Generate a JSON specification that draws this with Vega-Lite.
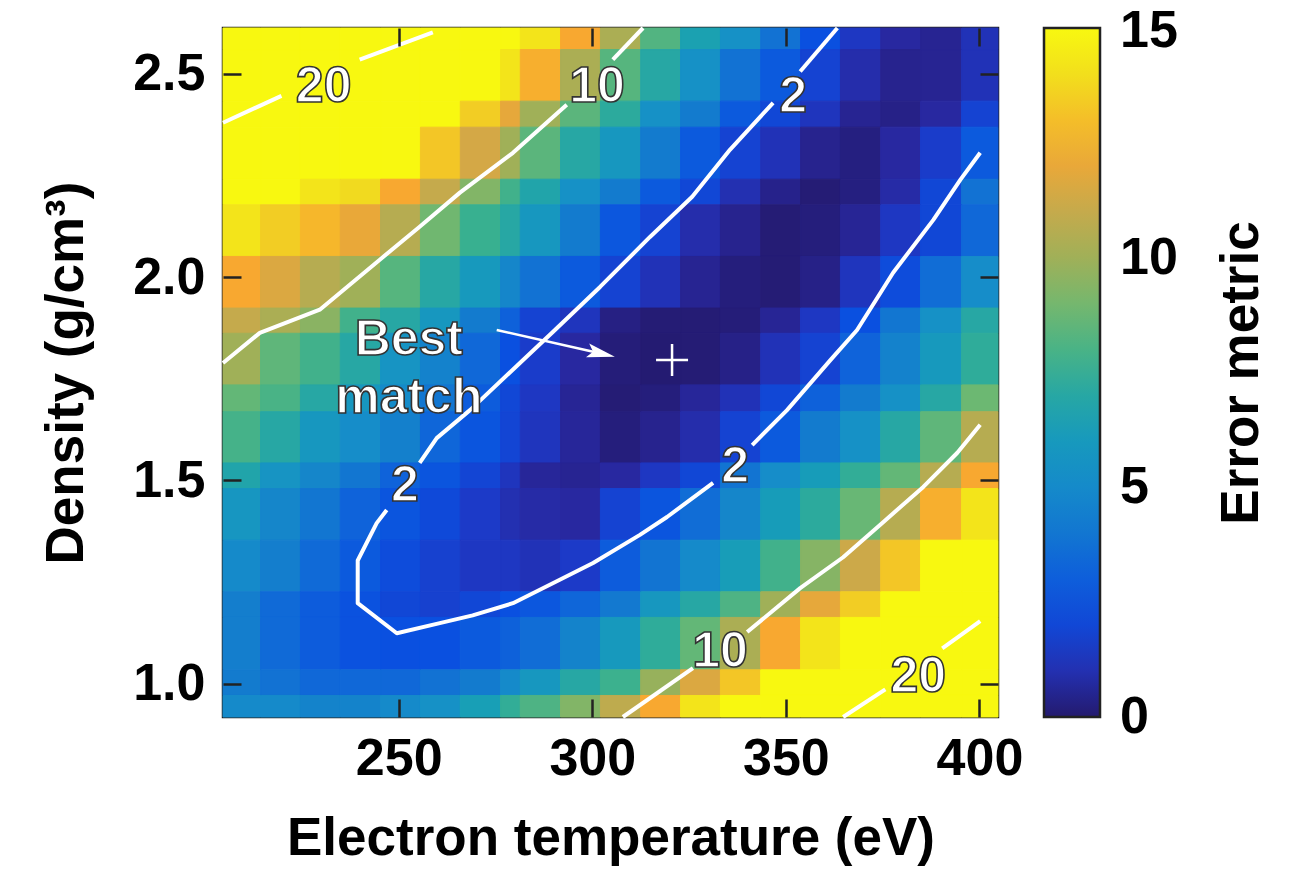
{
"$schema":"https://vega.github.io/schema/vega-lite/v6.json",
"width":775,"height":689,
"autosize":{"type":"none"},
"padding":{"left":223,"top":28,"right":293,"bottom":157},
"background":"white",
"config":{"view":{"stroke":"#222","strokeWidth":2.5},"font":"Liberation Sans"},
"datasets":{
"cols":[{"c":0,"t0":204.6,"t1":214.3},{"c":1,"t0":214.3,"t1":224.6},{"c":2,"t0":224.6,"t1":234.9},{"c":3,"t0":234.9,"t1":245.3},{"c":4,"t0":245.3,"t1":255.6},{"c":5,"t0":255.6,"t1":265.9},{"c":6,"t0":265.9,"t1":276.3},{"c":7,"t0":276.3,"t1":281.4},{"c":8,"t0":281.4,"t1":291.8},{"c":9,"t0":291.8,"t1":302.1},{"c":10,"t0":302.1,"t1":312.5},{"c":11,"t0":312.5,"t1":322.8},{"c":12,"t0":322.8,"t1":333.1},{"c":13,"t0":333.1,"t1":343.5},{"c":14,"t0":343.5,"t1":353.8},{"c":15,"t0":353.8,"t1":364.1},{"c":16,"t0":364.1,"t1":374.5},{"c":17,"t0":374.5,"t1":384.8},{"c":18,"t0":384.8,"t1":395.4},{"c":19,"t0":395.4,"t1":404.8}],
"rows":[{"r":0,"d0":2.560,"d1":2.613},{"r":1,"d0":2.433,"d1":2.560},{"r":2,"d0":2.369,"d1":2.433},{"r":3,"d0":2.241,"d1":2.369},{"r":4,"d0":2.178,"d1":2.241},{"r":5,"d0":2.051,"d1":2.178},{"r":6,"d0":1.924,"d1":2.051},{"r":7,"d0":1.862,"d1":1.924},{"r":8,"d0":1.735,"d1":1.862},{"r":9,"d0":1.669,"d1":1.735},{"r":10,"d0":1.543,"d1":1.669},{"r":11,"d0":1.480,"d1":1.543},{"r":12,"d0":1.353,"d1":1.480},{"r":13,"d0":1.226,"d1":1.353},{"r":14,"d0":1.163,"d1":1.226},{"r":15,"d0":1.034,"d1":1.163},{"r":16,"d0":0.971,"d1":1.034},{"r":17,"d0":0.918,"d1":0.971}],
"cells":[
{"r":0,"c":0,"v":30},{"r":0,"c":1,"v":28},{"r":0,"c":2,"v":26},{"r":0,"c":3,"v":24},{"r":0,"c":4,"v":22},{"r":0,"c":5,"v":20},{"r":0,"c":6,"v":18},{"r":0,"c":7,"v":16},{"r":0,"c":8,"v":14.2},{"r":0,"c":9,"v":12.4},{"r":0,"c":10,"v":10.3},{"r":0,"c":11,"v":8.2},{"r":0,"c":12,"v":6.6},{"r":0,"c":13,"v":5.5},{"r":0,"c":14,"v":3.8},{"r":0,"c":15,"v":2.4},{"r":0,"c":16,"v":1.3},{"r":0,"c":17,"v":0.7},{"r":0,"c":18,"v":0.5},{"r":0,"c":19,"v":1.1},
{"r":1,"c":0,"v":26},{"r":1,"c":1,"v":24},{"r":1,"c":2,"v":22},{"r":1,"c":3,"v":20},{"r":1,"c":4,"v":18.5},{"r":1,"c":5,"v":17.5},{"r":1,"c":6,"v":16.5},{"r":1,"c":7,"v":14.2},{"r":1,"c":8,"v":12.6},{"r":1,"c":9,"v":10.3},{"r":1,"c":10,"v":8.3},{"r":1,"c":11,"v":7.0},{"r":1,"c":12,"v":5.5},{"r":1,"c":13,"v":3.8},{"r":1,"c":14,"v":2.8},{"r":1,"c":15,"v":1.8},{"r":1,"c":16,"v":0.9},{"r":1,"c":17,"v":0.45},{"r":1,"c":18,"v":0.5},{"r":1,"c":19,"v":1.1},
{"r":2,"c":0,"v":20.5},{"r":2,"c":1,"v":19},{"r":2,"c":2,"v":18},{"r":2,"c":3,"v":17},{"r":2,"c":4,"v":16.5},{"r":2,"c":5,"v":15.5},{"r":2,"c":6,"v":13.4},{"r":2,"c":7,"v":11.9},{"r":2,"c":8,"v":10.0},{"r":2,"c":9,"v":8.4},{"r":2,"c":10,"v":7.2},{"r":2,"c":11,"v":5.5},{"r":2,"c":12,"v":4.2},{"r":2,"c":13,"v":2.8},{"r":2,"c":14,"v":2.0},{"r":2,"c":15,"v":1.2},{"r":2,"c":16,"v":0.5},{"r":2,"c":17,"v":0.35},{"r":2,"c":18,"v":0.7},{"r":2,"c":19,"v":1.8},
{"r":3,"c":0,"v":19},{"r":3,"c":1,"v":18},{"r":3,"c":2,"v":17},{"r":3,"c":3,"v":16.5},{"r":3,"c":4,"v":15.5},{"r":3,"c":5,"v":13.2},{"r":3,"c":6,"v":11.4},{"r":3,"c":7,"v":10.0},{"r":3,"c":8,"v":8.4},{"r":3,"c":9,"v":7.0},{"r":3,"c":10,"v":5.9},{"r":3,"c":11,"v":4.2},{"r":3,"c":12,"v":2.8},{"r":3,"c":13,"v":1.8},{"r":3,"c":14,"v":1.1},{"r":3,"c":15,"v":0.45},{"r":3,"c":16,"v":0.25},{"r":3,"c":17,"v":0.7},{"r":3,"c":18,"v":1.5},{"r":3,"c":19,"v":2.8},
{"r":4,"c":0,"v":17},{"r":4,"c":1,"v":16},{"r":4,"c":2,"v":14.2},{"r":4,"c":3,"v":13.8},{"r":4,"c":4,"v":12.4},{"r":4,"c":5,"v":11.0},{"r":4,"c":6,"v":9.3},{"r":4,"c":7,"v":7.8},{"r":4,"c":8,"v":6.8},{"r":4,"c":9,"v":5.5},{"r":4,"c":10,"v":4.2},{"r":4,"c":11,"v":2.8},{"r":4,"c":12,"v":2.0},{"r":4,"c":13,"v":1.0},{"r":4,"c":14,"v":0.4},{"r":4,"c":15,"v":0.1},{"r":4,"c":16,"v":0.25},{"r":4,"c":17,"v":0.8},{"r":4,"c":18,"v":2.0},{"r":4,"c":19,"v":3.8},
{"r":5,"c":0,"v":14.2},{"r":5,"c":1,"v":13.4},{"r":5,"c":2,"v":12.8},{"r":5,"c":3,"v":12.0},{"r":5,"c":4,"v":10.6},{"r":5,"c":5,"v":8.9},{"r":5,"c":6,"v":7.6},{"r":5,"c":7,"v":7.0},{"r":5,"c":8,"v":5.9},{"r":5,"c":9,"v":4.2},{"r":5,"c":10,"v":2.7},{"r":5,"c":11,"v":1.8},{"r":5,"c":12,"v":0.9},{"r":5,"c":13,"v":0.45},{"r":5,"c":14,"v":0.1},{"r":5,"c":15,"v":0.2},{"r":5,"c":16,"v":0.55},{"r":5,"c":17,"v":1.3},{"r":5,"c":18,"v":2.0},{"r":5,"c":19,"v":3.4},
{"r":6,"c":0,"v":12.4},{"r":6,"c":1,"v":11.6},{"r":6,"c":2,"v":10.6},{"r":6,"c":3,"v":10.0},{"r":6,"c":4,"v":8.3},{"r":6,"c":5,"v":7.0},{"r":6,"c":6,"v":6.0},{"r":6,"c":7,"v":4.8},{"r":6,"c":8,"v":3.8},{"r":6,"c":9,"v":2.8},{"r":6,"c":10,"v":1.8},{"r":6,"c":11,"v":1.1},{"r":6,"c":12,"v":0.5},{"r":6,"c":13,"v":0.2},{"r":6,"c":14,"v":0.1},{"r":6,"c":15,"v":0.35},{"r":6,"c":16,"v":1.2},{"r":6,"c":17,"v":2.2},{"r":6,"c":18,"v":3.6},{"r":6,"c":19,"v":5.2},
{"r":7,"c":0,"v":11.0},{"r":7,"c":1,"v":10.3},{"r":7,"c":2,"v":9.5},{"r":7,"c":3,"v":7.8},{"r":7,"c":4,"v":7.0},{"r":7,"c":5,"v":5.9},{"r":7,"c":6,"v":4.2},{"r":7,"c":7,"v":3.1},{"r":7,"c":8,"v":1.8},{"r":7,"c":9,"v":1.2},{"r":7,"c":10,"v":0.3},{"r":7,"c":11,"v":0.1},{"r":7,"c":12,"v":0.1},{"r":7,"c":13,"v":0.15},{"r":7,"c":14,"v":0.55},{"r":7,"c":15,"v":1.3},{"r":7,"c":16,"v":2.4},{"r":7,"c":17,"v":4.0},{"r":7,"c":18,"v":5.5},{"r":7,"c":19,"v":7.0},
{"r":8,"c":0,"v":10.0},{"r":8,"c":1,"v":8.5},{"r":8,"c":2,"v":7.8},{"r":8,"c":3,"v":7.0},{"r":8,"c":4,"v":5.7},{"r":8,"c":5,"v":4.5},{"r":8,"c":6,"v":3.4},{"r":8,"c":7,"v":2.4},{"r":8,"c":8,"v":1.5},{"r":8,"c":9,"v":0.7},{"r":8,"c":10,"v":0.15},{"r":8,"c":11,"v":0.05},{"r":8,"c":12,"v":0.1},{"r":8,"c":13,"v":0.35},{"r":8,"c":14,"v":1.1},{"r":8,"c":15,"v":1.8},{"r":8,"c":16,"v":3.2},{"r":8,"c":17,"v":4.5},{"r":8,"c":18,"v":6.0},{"r":8,"c":19,"v":7.3},
{"r":9,"c":0,"v":8.6},{"r":9,"c":1,"v":8.0},{"r":9,"c":2,"v":7.0},{"r":9,"c":3,"v":5.9},{"r":9,"c":4,"v":5.1},{"r":9,"c":5,"v":4.0},{"r":9,"c":6,"v":2.9},{"r":9,"c":7,"v":2.0},{"r":9,"c":8,"v":1.3},{"r":9,"c":9,"v":0.55},{"r":9,"c":10,"v":0.1},{"r":9,"c":11,"v":0.2},{"r":9,"c":12,"v":0.6},{"r":9,"c":13,"v":1.1},{"r":9,"c":14,"v":2.0},{"r":9,"c":15,"v":3.1},{"r":9,"c":16,"v":4.2},{"r":9,"c":17,"v":5.5},{"r":9,"c":18,"v":7.0},{"r":9,"c":19,"v":8.8},
{"r":10,"c":0,"v":7.9},{"r":10,"c":1,"v":7.0},{"r":10,"c":2,"v":5.9},{"r":10,"c":3,"v":5.2},{"r":10,"c":4,"v":4.4},{"r":10,"c":5,"v":3.3},{"r":10,"c":6,"v":2.6},{"r":10,"c":7,"v":1.9},{"r":10,"c":8,"v":1.2},{"r":10,"c":9,"v":0.6},{"r":10,"c":10,"v":0.2},{"r":10,"c":11,"v":0.45},{"r":10,"c":12,"v":0.9},{"r":10,"c":13,"v":1.8},{"r":10,"c":14,"v":2.8},{"r":10,"c":15,"v":4.2},{"r":10,"c":16,"v":5.5},{"r":10,"c":17,"v":7.0},{"r":10,"c":18,"v":8.5},{"r":10,"c":19,"v":10.6},
{"r":11,"c":0,"v":6.8},{"r":11,"c":1,"v":5.7},{"r":11,"c":2,"v":4.8},{"r":11,"c":3,"v":4.0},{"r":11,"c":4,"v":3.2},{"r":11,"c":5,"v":2.6},{"r":11,"c":6,"v":1.9},{"r":11,"c":7,"v":1.2},{"r":11,"c":8,"v":0.6},{"r":11,"c":9,"v":0.5},{"r":11,"c":10,"v":0.7},{"r":11,"c":11,"v":1.3},{"r":11,"c":12,"v":2.0},{"r":11,"c":13,"v":3.9},{"r":11,"c":14,"v":5.2},{"r":11,"c":15,"v":6.2},{"r":11,"c":16,"v":7.4},{"r":11,"c":17,"v":8.6},{"r":11,"c":18,"v":10.6},{"r":11,"c":19,"v":12.4},
{"r":12,"c":0,"v":5.8},{"r":12,"c":1,"v":4.8},{"r":12,"c":2,"v":4.0},{"r":12,"c":3,"v":3.2},{"r":12,"c":4,"v":2.6},{"r":12,"c":5,"v":2.1},{"r":12,"c":6,"v":1.4},{"r":12,"c":7,"v":1.0},{"r":12,"c":8,"v":0.8},{"r":12,"c":9,"v":0.7},{"r":12,"c":10,"v":1.8},{"r":12,"c":11,"v":2.6},{"r":12,"c":12,"v":3.6},{"r":12,"c":13,"v":4.8},{"r":12,"c":14,"v":6.2},{"r":12,"c":15,"v":7.2},{"r":12,"c":16,"v":8.7},{"r":12,"c":17,"v":10.6},{"r":12,"c":18,"v":12.6},{"r":12,"c":19,"v":14.2},
{"r":13,"c":0,"v":5.0},{"r":13,"c":1,"v":4.3},{"r":13,"c":2,"v":3.5},{"r":13,"c":3,"v":2.8},{"r":13,"c":4,"v":2.2},{"r":13,"c":5,"v":1.7},{"r":13,"c":6,"v":1.3},{"r":13,"c":7,"v":1.3},{"r":13,"c":8,"v":1.1},{"r":13,"c":9,"v":1.4},{"r":13,"c":10,"v":2.9},{"r":13,"c":11,"v":3.9},{"r":13,"c":12,"v":5.0},{"r":13,"c":13,"v":6.3},{"r":13,"c":14,"v":7.8},{"r":13,"c":15,"v":9.4},{"r":13,"c":16,"v":11.2},{"r":13,"c":17,"v":13.2},{"r":13,"c":18,"v":16},{"r":13,"c":19,"v":17.5},
{"r":14,"c":0,"v":4.3},{"r":14,"c":1,"v":3.5},{"r":14,"c":2,"v":2.9},{"r":14,"c":3,"v":2.5},{"r":14,"c":4,"v":2.0},{"r":14,"c":5,"v":1.7},{"r":14,"c":6,"v":2.0},{"r":14,"c":7,"v":2.4},{"r":14,"c":8,"v":2.7},{"r":14,"c":9,"v":3.3},{"r":14,"c":10,"v":4.1},{"r":14,"c":11,"v":5.9},{"r":14,"c":12,"v":7.0},{"r":14,"c":13,"v":8.1},{"r":14,"c":14,"v":10.0},{"r":14,"c":15,"v":11.9},{"r":14,"c":16,"v":13.4},{"r":14,"c":17,"v":15.5},{"r":14,"c":18,"v":17.5},{"r":14,"c":19,"v":19.2},
{"r":15,"c":0,"v":4.3},{"r":15,"c":1,"v":3.5},{"r":15,"c":2,"v":2.9},{"r":15,"c":3,"v":2.5},{"r":15,"c":4,"v":2.4},{"r":15,"c":5,"v":2.4},{"r":15,"c":6,"v":2.8},{"r":15,"c":7,"v":3.1},{"r":15,"c":8,"v":3.6},{"r":15,"c":9,"v":4.6},{"r":15,"c":10,"v":6.0},{"r":15,"c":11,"v":7.3},{"r":15,"c":12,"v":8.6},{"r":15,"c":13,"v":10.3},{"r":15,"c":14,"v":12.4},{"r":15,"c":15,"v":14.2},{"r":15,"c":16,"v":16},{"r":15,"c":17,"v":17.5},{"r":15,"c":18,"v":19.3},{"r":15,"c":19,"v":21},
{"r":16,"c":0,"v":4.2},{"r":16,"c":1,"v":3.8},{"r":16,"c":2,"v":3.4},{"r":16,"c":3,"v":3.4},{"r":16,"c":4,"v":3.4},{"r":16,"c":5,"v":3.8},{"r":16,"c":6,"v":4.2},{"r":16,"c":7,"v":5.0},{"r":16,"c":8,"v":5.9},{"r":16,"c":9,"v":7.0},{"r":16,"c":10,"v":7.7},{"r":16,"c":11,"v":9.8},{"r":16,"c":12,"v":11.6},{"r":16,"c":13,"v":13.2},{"r":16,"c":14,"v":15.5},{"r":16,"c":15,"v":17},{"r":16,"c":16,"v":18.5},{"r":16,"c":17,"v":20},{"r":16,"c":18,"v":21.5},{"r":16,"c":19,"v":23},
{"r":17,"c":0,"v":5.0},{"r":17,"c":1,"v":5.0},{"r":17,"c":2,"v":4.6},{"r":17,"c":3,"v":4.6},{"r":17,"c":4,"v":5.0},{"r":17,"c":5,"v":5.5},{"r":17,"c":6,"v":6.4},{"r":17,"c":7,"v":7.4},{"r":17,"c":8,"v":8.1},{"r":17,"c":9,"v":9.3},{"r":17,"c":10,"v":10.8},{"r":17,"c":11,"v":12.4},{"r":17,"c":12,"v":14.2},{"r":17,"c":13,"v":16},{"r":17,"c":14,"v":17.5},{"r":17,"c":15,"v":19},{"r":17,"c":16,"v":20.3},{"r":17,"c":17,"v":22},{"r":17,"c":18,"v":23.5},{"r":17,"c":19,"v":25}
],
"contours":[
{"seg":"2a","i":0,"T":363.3,"D":2.613},{"seg":"2a","i":1,"T":353.7,"D":2.506},
{"seg":"2b","i":0,"T":346.7,"D":2.429},{"seg":"2b","i":1,"T":335.6,"D":2.314},{"seg":"2b","i":2,"T":325.8,"D":2.198},{"seg":"2b","i":3,"T":314.9,"D":2.099},{"seg":"2b","i":4,"T":302.0,"D":1.976},{"seg":"2b","i":5,"T":289.8,"D":1.865},{"seg":"2b","i":6,"T":281.3,"D":1.789},{"seg":"2b","i":7,"T":268.4,"D":1.673},{"seg":"2b","i":8,"T":259.8,"D":1.604},{"seg":"2b","i":9,"T":255.4,"D":1.543},
{"seg":"2c","i":0,"T":246.9,"D":1.427},{"seg":"2c","i":1,"T":244.3,"D":1.395},{"seg":"2c","i":2,"T":239.4,"D":1.303},{"seg":"2c","i":3,"T":239.4,"D":1.198},{"seg":"2c","i":4,"T":249.5,"D":1.124},{"seg":"2c","i":5,"T":260.6,"D":1.149},{"seg":"2c","i":6,"T":269.1,"D":1.168},{"seg":"2c","i":7,"T":279.5,"D":1.198},{"seg":"2c","i":8,"T":289.8,"D":1.247},{"seg":"2c","i":9,"T":300.2,"D":1.297},{"seg":"2c","i":10,"T":312.3,"D":1.366},{"seg":"2c","i":11,"T":319.3,"D":1.410},{"seg":"2c","i":12,"T":331.2,"D":1.494},
{"seg":"2d","i":0,"T":341.3,"D":1.587},{"seg":"2d","i":1,"T":350.3,"D":1.673},{"seg":"2d","i":2,"T":361.5,"D":1.796},{"seg":"2d","i":3,"T":368.4,"D":1.870},{"seg":"2d","i":4,"T":377.7,"D":2.011},{"seg":"2d","i":5,"T":388.1,"D":2.141},{"seg":"2d","i":6,"T":395.1,"D":2.240},{"seg":"2d","i":7,"T":400.2,"D":2.306},
{"seg":"10a","i":0,"T":204.6,"D":1.789},{"seg":"10a","i":1,"T":214.1,"D":1.863},{"seg":"10a","i":2,"T":229.6,"D":1.920},{"seg":"10a","i":3,"T":245.1,"D":2.043},{"seg":"10a","i":4,"T":255.4,"D":2.124},{"seg":"10a","i":5,"T":265.8,"D":2.208},{"seg":"10a","i":6,"T":279.5,"D":2.306},{"seg":"10a","i":7,"T":293.4,"D":2.424},
{"seg":"10b","i":0,"T":305.3,"D":2.535},{"seg":"10b","i":1,"T":313.1,"D":2.613},
{"seg":"10c","i":0,"T":307.9,"D":0.918},{"seg":"10c","i":1,"T":326.0,"D":1.038},
{"seg":"10d","i":0,"T":340.0,"D":1.127},{"seg":"10d","i":1,"T":353.7,"D":1.235},{"seg":"10d","i":2,"T":364.8,"D":1.311},{"seg":"10d","i":3,"T":375.2,"D":1.398},{"seg":"10d","i":4,"T":385.5,"D":1.484},{"seg":"10d","i":5,"T":394.3,"D":1.568},{"seg":"10d","i":6,"T":400.2,"D":1.637},
{"seg":"20a","i":0,"T":204.6,"D":2.380},{"seg":"20a","i":1,"T":219.7,"D":2.446},
{"seg":"20b","i":0,"T":239.9,"D":2.535},{"seg":"20b","i":1,"T":258.8,"D":2.602},
{"seg":"20c","i":0,"T":364.8,"D":0.918},{"seg":"20c","i":1,"T":375.7,"D":0.986},
{"seg":"20d","i":0,"T":390.4,"D":1.087},{"seg":"20d","i":1,"T":400.2,"D":1.154}
],
"labels":[
{"T":230.6,"D":2.469,"label":"20"},{"T":301.2,"D":2.469,"label":"10"},{"T":351.9,"D":2.444,"label":"2"},{"T":251.6,"D":1.486,"label":"2"},{"T":336.9,"D":1.533,"label":"2"},{"T":333.0,"D":1.077,"label":"10"},{"T":384.2,"D":1.016,"label":"20"},{"T":252.6,"D":1.845,"label":"Best\nmatch"}
],
"arrow":[{"i":0,"T":275.3,"D":1.870},{"i":1,"T":300.5,"D":1.816}],
"arrowhead":[{"T":302.3,"D":1.812}],
"best":[{"T":320.6,"D":1.796}]
},
"layer":[
{"data":{"name":"cells"},
 "transform":[
  {"lookup":"c","from":{"data":{"name":"cols"},"key":"c","fields":["t0","t1"]}},
  {"lookup":"r","from":{"data":{"name":"rows"},"key":"r","fields":["d0","d1"]}}
 ],
 "mark":{"type":"rect","strokeWidth":1,"stroke":{"expr":"scale('fill', datum.v)"}},
 "encoding":{
  "x":{"field":"t0","type":"quantitative","scale":{"domain":[204.6,404.8],"nice":false,"zero":false},
   "axis":{"orient":"bottom","zindex":1,"title":"Electron temperature (eV)","values":[250,300,350,400],"grid":false,"domain":false,"tickSize":-18,"tickWidth":2.5,"tickColor":"#222","labelFontSize":52,"labelFont":"Liberation Sans","labelFontWeight":"bold","labelColor":"black","labelPadding":34,"labelFlush":false,"labelOverlap":false,"titleFont":"Liberation Sans","titleFontSize":53,"titleFontWeight":"bold","titleColor":"black","titlePadding":28}},
  "x2":{"field":"t1"},
  "y":{"field":"d0","type":"quantitative","scale":{"domain":[0.918,2.613],"nice":false,"zero":false},
   "axis":{"orient":"left","zindex":1,"title":"Density (g/cm³)","values":[1,1.5,2,2.5],"format":".1f","grid":false,"domain":false,"tickSize":-18,"tickWidth":2.5,"tickColor":"#222","labelFontSize":52,"labelFont":"Liberation Sans","labelFontWeight":"bold","labelColor":"black","labelPadding":36,"labelFlush":false,"labelOverlap":false,"titleFont":"Liberation Sans","titleFontSize":53,"titleFontWeight":"bold","titleColor":"black","titlePadding":39}},
  "y2":{"field":"d1"},
  "fill":{"field":"v","type":"quantitative",
   "scale":{"domain":[0,0.7,1.4,2.4,3.4,4.4,5.4,6.5,7.6,8.8,10,11.3,12.4,13.7,15],"range":["#241A6E","#2828A0","#1C3AC8","#0A50E0","#1068D8","#1480CC","#1690C8","#18A0B4","#38B090","#6CB872","#A0B058","#D0A848","#F8A830","#F0D820","#F8F810"],"clamp":true,"interpolate":"rgb"},
   "legend":{"type":"gradient","title":"Error metric","orient":"right","direction":"vertical","gradientLength":689,"gradientThickness":56,"gradientStrokeColor":"#222","gradientStrokeWidth":2.5,"values":[0,5,10,15],"labelFontSize":52,"labelFont":"Liberation Sans","labelFontWeight":"bold","labelColor":"black","labelOffset":20,"labelBaseline":"middle","labelAlign":"left","labelOverlap":false,"titleOrient":"right","titleFont":"Liberation Sans","titleFontSize":53,"titleFontWeight":"bold","titleColor":"black","titleAnchor":"middle","titleAlign":"center","titleBaseline":"top","titlePadding":38,"titleLimit":2000,"offset":44,"padding":0,
    "encode":{"title":{"update":{"angle":{"value":-90}}},"labels":{"update":{"baseline":{"value":"middle"},"dy":{"signal":"datum.value >= 15 ? 3 : 0"}}}}}}
 }},
{"data":{"name":"contours"},
 "mark":{"type":"line","color":"white","strokeWidth":4,"strokeCap":"butt","strokeJoin":"round"},
 "encoding":{"x":{"field":"T","type":"quantitative","axis":null},"y":{"field":"D","type":"quantitative","axis":null},"detail":{"field":"seg"},"order":{"field":"i","type":"quantitative"}}},
{"data":{"name":"arrow"},
 "mark":{"type":"line","color":"white","strokeWidth":2.5},
 "encoding":{"x":{"field":"T","type":"quantitative","axis":null},"y":{"field":"D","type":"quantitative","axis":null},"order":{"field":"i","type":"quantitative"}}},
{"data":{"name":"arrowhead"},
 "mark":{"type":"point","shape":"M1,0L-1,-0.5L-0.6,0L-1,0.5Z","size":784,"angle":13.5,"filled":true,"color":"white","opacity":1,"strokeWidth":0},
 "encoding":{"x":{"field":"T","type":"quantitative","axis":null},"y":{"field":"D","type":"quantitative","axis":null}}},
{"data":{"name":"best"},
 "mark":{"type":"point","shape":"M-1,0L1,0M0,-1L0,1","size":1024,"filled":false,"color":"white","strokeWidth":2.5,"opacity":1},
 "encoding":{
  "x":{"field":"T","type":"quantitative","axis":{"orient":"top","zindex":1,"title":null,"labels":false,"values":[250,300,350,400],"grid":false,"domain":false,"tickSize":-18,"tickWidth":2.5,"tickColor":"#222"}},
  "y":{"field":"D","type":"quantitative","axis":{"orient":"right","zindex":1,"title":null,"labels":false,"values":[1,1.5,2,2.5],"grid":false,"domain":false,"tickSize":-18,"tickWidth":2.5,"tickColor":"#222"}}}},
{"data":{"name":"labels"},
 "mark":{"type":"text","font":"Liberation Sans","fontSize":50,"fontWeight":"bold","fill":"white","stroke":"#333","strokeWidth":1.6,"align":"center","baseline":"middle","lineBreak":"\n","lineHeight":58},
 "encoding":{"x":{"field":"T","type":"quantitative","axis":null},"y":{"field":"D","type":"quantitative","axis":null},"text":{"field":"label"}}}
],
"resolve":{"axis":{"x":"independent","y":"independent"}}
}
